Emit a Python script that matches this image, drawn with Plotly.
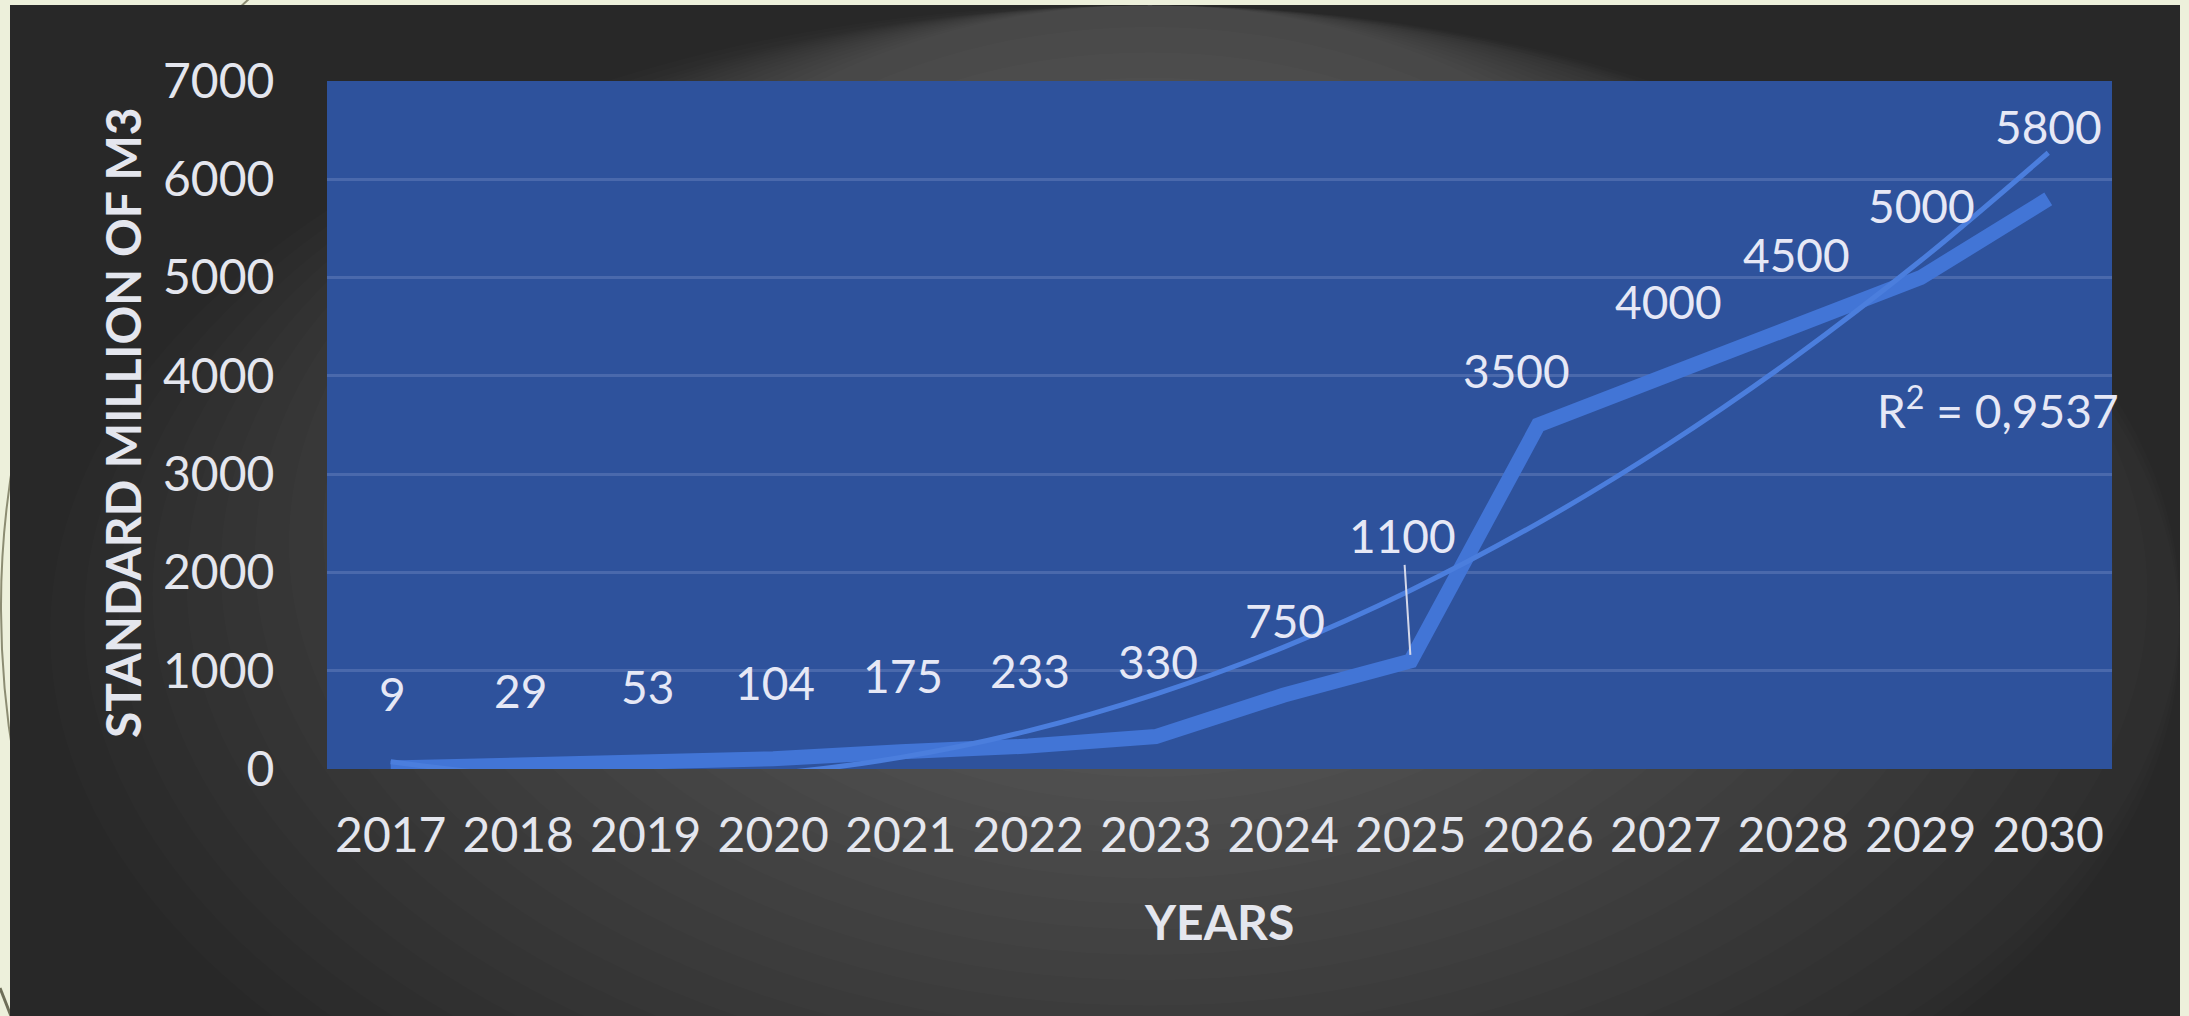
import plotly.graph_objects as go

# ---------------- data ----------------
years = [2017, 2018, 2019, 2020, 2021, 2022, 2023,
         2024, 2025, 2026, 2027, 2028, 2029, 2030]
values = [9, 29, 53, 104, 175, 233, 330, 750, 1100, 3500, 4000, 4500, 5000, 5800]
# polynomial trend line (dips below 0 at the left, clipped)
trend_values = [73, -71, -111, -48, 118, 388, 762, 1238, 1819, 2502, 3289, 4179, 5173, 6270]
y_ticks = [0, 1000, 2000, 3000, 4000, 5000, 6000, 7000]
x_tick_labels = [str(y) for y in years]
r2_text = "R<sup>2</sup> = 0,9537"
x_title = "YEARS"
y_title = "STANDARD MILLION OF M3"

# label placement (pixels above / beside each point)
label_dy = [75, 76, 77, 76, 76, 76, 75, 75, 125, 55, 74, 72, 72, 72]
label_dx = [2, 2, 2, 2, 2, 2, 2, 2, -8, -22, 3, 3, 1, 0]

# ---------------- geometry ----------------
W, H = 2189, 1016
def px(p):
    return p / W
def py(p):
    return 1 - p / H

PLOT_L, PLOT_R, PLOT_T, PLOT_B = 327, 2112, 81, 769

FONT = "Lato"
TXT = "#E4E6EE"
LABEL = "#E6E8F6"
BLUE_BG = "#2E529C"
GRID = "#4A69AC"
LINE = "#4275D6"
TREND = "#4B7EDD"

fig = go.Figure()

fig.add_trace(go.Scatter(
    x=years, y=values, mode="lines",
    line=dict(color=LINE, width=15),
    hoverinfo="skip", showlegend=False,
))
fig.add_trace(go.Scatter(
    x=years, y=trend_values, mode="lines",
    line=dict(color=TREND, width=5, shape="spline", smoothing=1.0),
    hoverinfo="skip", showlegend=False,
))

def pt(x, y):
    return "%.5f,%.5f" % (px(x), py(y))

shapes = []
# decorative arc on the cream slide background (left side only)
shapes.append(dict(type="path", xref="paper", yref="paper",
                   path="M " + pt(250, -2) + " C " + pt(80, 150) + " " + pt(0, 400) + " " + pt(1, 610)
                        + " C " + pt(2, 800) + " " + pt(60, 950) + " " + pt(110, 1030),
                   line=dict(color="#8C8C72", width=2), layer="below"))
shapes.append(dict(type="line", xref="paper", yref="paper",
                   x0=0, y0=py(988), x1=px(11), y1=0,
                   line=dict(color="#6E6E58", width=3), layer="below"))
# dark chart panel
shapes.append(dict(type="rect", xref="paper", yref="paper",
                   x0=px(10), x1=px(2180), y0=0, y1=py(5),
                   fillcolor="#282828", line=dict(width=0), layer="below"))
# soft radial lightening
cx, cy, rx, ry = 1150, 440, 1100, 820
n = 30
for i in range(n):
    k = 1 - i * 0.031
    shapes.append(dict(type="circle", xref="paper", yref="paper",
                       x0=px(max(cx - rx * k, 10)), x1=px(min(cx + rx * k, 2180)),
                       y0=py(cy + ry * k), y1=py(max(cy - ry * k, 5)),
                       fillcolor="rgba(255,255,255,0.0105)", line=dict(width=0),
                       layer="below"))
# blue plot area
shapes.append(dict(type="rect", xref="x domain", yref="y domain",
                   x0=0, x1=1, y0=0, y1=1,
                   fillcolor=BLUE_BG, line=dict(width=0), layer="below"))

annotations = []
for i, (yr, v) in enumerate(zip(years, values)):
    if i == 8:
        annotations.append(dict(
            x=yr, y=v, xref="x", yref="y", text=str(v),
            showarrow=True, arrowhead=0, arrowwidth=2, arrowcolor="#D4D8EA",
            ax=label_dx[i], ay=-label_dy[i], standoff=6,
            xanchor="center", yanchor="middle",
            font=dict(family=FONT, size=46, color=LABEL)))
    else:
        annotations.append(dict(
            x=yr, y=v, xref="x", yref="y", text=str(v), showarrow=False,
            xanchor="center", yanchor="middle",
            xshift=label_dx[i], yshift=label_dy[i],
            font=dict(family=FONT, size=46, color=LABEL)))

annotations.append(dict(x=px(1998), y=py(408), xref="paper", yref="paper",
                        text=r2_text, showarrow=False,
                        xanchor="center", yanchor="middle",
                        font=dict(family=FONT, size=46, color=LABEL)))
annotations.append(dict(x=px(1219), y=py(921), xref="paper", yref="paper",
                        text="<b>%s</b>" % x_title, showarrow=False,
                        xanchor="center", yanchor="middle",
                        font=dict(family=FONT, size=48, color=TXT)))
annotations.append(dict(x=px(123), y=py(423), xref="paper", yref="paper",
                        text="<b>%s</b>" % y_title, showarrow=False, textangle=-90,
                        xanchor="center", yanchor="middle",
                        font=dict(family=FONT, size=48, color=TXT)))

fig.update_layout(
    width=W, height=H,
    margin=dict(l=0, r=0, t=0, b=0, pad=0),
    paper_bgcolor="#EDF0DB",
    plot_bgcolor=BLUE_BG,
    font=dict(family=FONT, color=TXT),
    shapes=shapes,
    annotations=annotations,
    showlegend=False,
    xaxis=dict(
        domain=[px(PLOT_L), px(PLOT_R)],
        range=[years[0] - 0.5, years[-1] + 0.5],
        tickvals=years, ticktext=x_tick_labels,
        showgrid=False, zeroline=False, showline=False,
        ticks="outside", ticklen=24, tickcolor="rgba(0,0,0,0)",
        tickfont=dict(family=FONT, size=48, color=TXT),
        automargin=False, fixedrange=True,
    ),
    yaxis=dict(
        domain=[py(PLOT_B), py(PLOT_T)],
        range=[0, 7000], tickvals=y_ticks,
        showgrid=True, gridcolor=GRID, gridwidth=3,
        zeroline=False, showline=False,
        ticks="outside", ticklen=42, tickcolor="rgba(0,0,0,0)",
        tickfont=dict(family=FONT, size=48, color=TXT),
        automargin=False, fixedrange=True,
    ),
)

fig.write_html("out.html",
               config={"displayModeBar": False},
               post_script="document.body.style.margin='0';document.body.style.overflow='hidden';")
